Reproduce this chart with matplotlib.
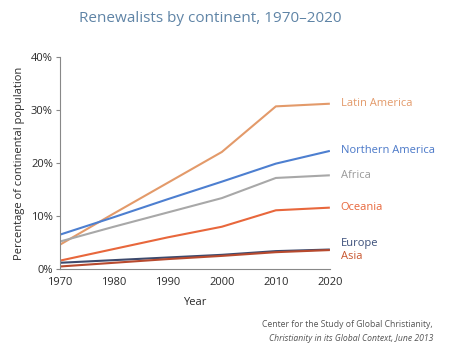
import matplotlib
matplotlib.use("Agg")
import matplotlib.pyplot as plt

years = [1970, 1980, 1990, 2000, 2010, 2020]
series_names = ["Latin America", "Northern America", "Africa", "Oceania", "Europe", "Asia"]
latin_america = [4.6, 10.5, 16.3, 22.1, 30.7, 31.2]
northern_america = [6.5, 9.8, 13.2, 16.5, 19.9, 22.3]
africa = [5.2, 8.0, 10.7, 13.4, 17.2, 17.7]
oceania = [1.6, 3.8, 6.0, 8.0, 11.1, 11.6]
europe = [1.2, 1.7, 2.2, 2.7, 3.4, 3.7]
asia = [0.5, 1.2, 1.9, 2.5, 3.2, 3.6]
y_ticks = [0, 10, 20, 30, 40]
y_tick_labels = ["0%", "10%", "20%", "30%", "40%"]

values = [latin_america, northern_america, africa, oceania, europe, asia]
line_colors = ["#e39a6a", "#4d7fd0", "#a8a8a8", "#e8673c", "#3d4a6d", "#b84a2e"]
label_colors = ["#e39a6a", "#4a78c8", "#9a9a9a", "#e8663a", "#3b4f7a", "#c8552e"]
label_y = [31.2, 22.3, 17.7, 11.6, 4.9, 2.4]

plt.rcParams['font.family'] = ['Open Sans', 'DejaVu Sans']
fig = plt.figure(figsize=(4.5, 3.5), dpi=100)
ax = fig.add_axes([0.133, 0.231, 0.6, 0.606])

for name, vals, c, lc, ly in zip(series_names, values, line_colors, label_colors, label_y):
    ax.plot(years, vals, color=c, lw=1.5, solid_capstyle='butt')
    ax.text(2022, ly, name, color=lc, fontsize=8, va='center', ha='left', clip_on=False)

ax.set_xlim(1970, 2020)
ax.set_ylim(0, 40)
ax.set_xticks(years)
ax.set_xticklabels([str(y) for y in years])
ax.set_yticks(y_ticks)
ax.set_yticklabels(y_tick_labels)
for s in ["top", "right"]:
    ax.spines[s].set_visible(False)
for s in ["left", "bottom"]:
    ax.spines[s].set_color("#888888")
    ax.spines[s].set_linewidth(0.8)
ax.tick_params(axis='x', length=0, pad=6, labelsize=8, labelcolor="#2a2a2a")
ax.tick_params(axis='y', length=3, color="#888888", pad=2, labelsize=8, labelcolor="#2a2a2a")
ax.set_xlabel("Year", fontsize=8, color="#2a2a2a", labelpad=6)
ax.set_ylabel("Percentage of continental population", fontsize=8, color="#2a2a2a", labelpad=4)

fig.text(0.467, 0.948, "Renewalists by continent, 1970\u20132020", ha='center', va='center',
         fontsize=11, color="#5f84a6")
fig.text(0.962, 0.073, "Center for the Study of Global Christianity,", ha='right', va='center',
         fontsize=6.2, color="#555555")
fig.text(0.962, 0.034, "Christianity in its Global Context, June 2013", ha='right', va='center',
         fontsize=6.2, color="#555555", style='italic')

fig.savefig("out.png", dpi=100)
